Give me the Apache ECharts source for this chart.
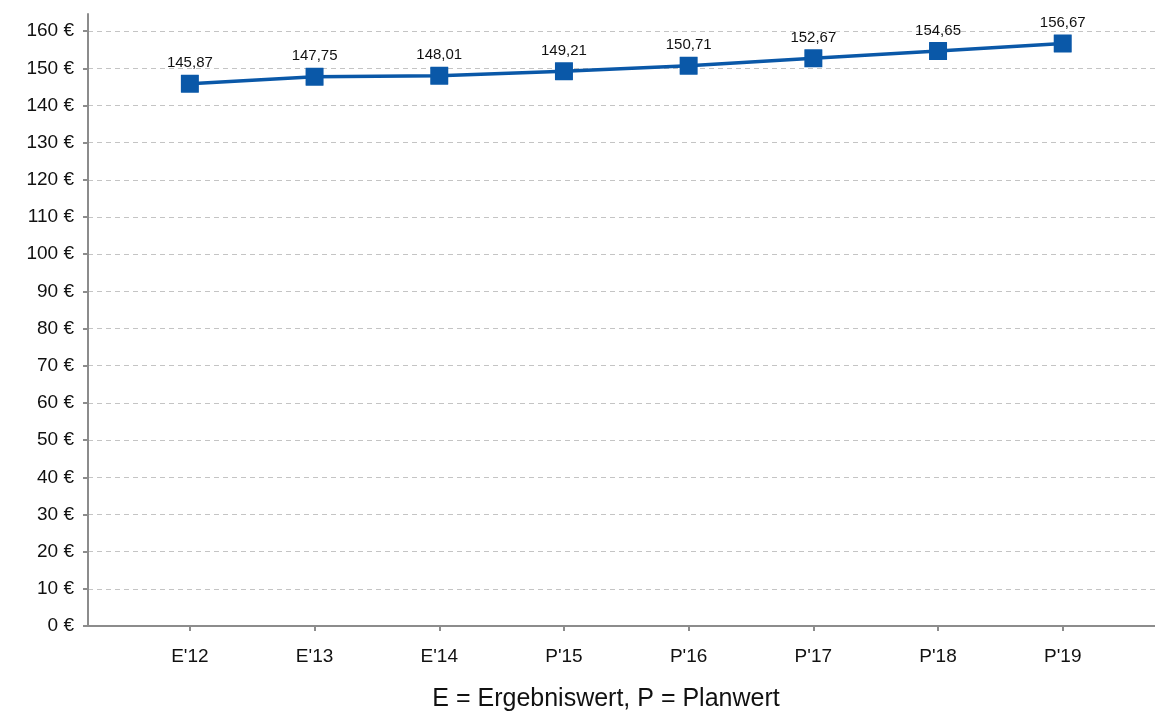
<!DOCTYPE html>
<html>
<head>
<meta charset="utf-8">
<script src="https://cdn.jsdelivr.net/npm/echarts@6/dist/echarts.min.js"></script>
<style>html,body{margin:0;padding:0;background:#fff;}#c{width:1155px;height:713px;}</style>
</head>
<body>
<div id="c"></div>
<script>
const categories = ["E'12", "E'13", "E'14", "P'15", "P'16", "P'17", "P'18", "P'19"];
const values = [145.87, 147.75, 148.01, 149.21, 150.71, 152.67, 154.65, 156.67];
const yTicks = [0, 10, 20, 30, 40, 50, 60, 70, 80, 90, 100, 110, 120, 130, 140, 150, 160];
const footnote = "E = Ergebniswert, P = Planwert";

const xIdx = categories.map((_, i) => i);
const chart = echarts.init(document.getElementById('c'), null, {renderer: 'canvas'});
const font = 'Liberation Sans, Arial, sans-serif';
chart.setOption({
  animation: false,
  backgroundColor: '#fff',
  title: {
    text: footnote, left: 601, top: 682, textAlign: 'center',
    textStyle: {fontFamily: font, fontSize: 25, fontWeight: 'normal', color: '#111'}
  },
  grid: {left: 88, right: 0, top: 14, bottom: 87, containLabel: false},
  xAxis: {
    type: 'value', min: -0.817, max: 7.74,
    axisLine: {show: true, onZero: false, lineStyle: {color: '#8c8c8c', width: 2}},
    axisTick: {show: true, customValues: xIdx, length: 5, lineStyle: {color: '#8c8c8c', width: 2}},
    axisLabel: {customValues: xIdx, formatter: v => categories[Math.round(v)] || '', fontFamily: font, fontSize: 19, color: '#111', margin: 21},
    splitLine: {show: false}
  },
  yAxis: {
    type: 'value', min: 0, max: 164.6,
    axisLine: {show: true, onZero: false, lineStyle: {color: '#8c8c8c', width: 2}},
    axisTick: {show: true, customValues: yTicks, length: 5, lineStyle: {color: '#8c8c8c', width: 2}},
    axisLabel: {customValues: yTicks, formatter: v => v + ' €', fontFamily: font, fontSize: 19, color: '#111', margin: 14},
    splitLine: {show: true, lineStyle: {color: '#c4c4c4', type: [5, 4], width: 1}}
  },
  series: [{
    type: 'line',
    data: values.map((v, i) => [i, v]),
    symbol: 'path://M2,0 H98 Q100,0 100,2 V98 Q100,100 98,100 H2 Q0,100 0,98 V2 Q0,0 2,0 Z', symbolSize: 18,
    itemStyle: {color: '#0a58a8'},
    lineStyle: {color: '#0a58a8', width: 3.5},
    label: {
      show: true, position: 'top', distance: 4,
      formatter: p => p.value[1].toFixed(2).replace('.', ','),
      fontFamily: font, fontSize: 15, color: '#111'
    },
    z: 5
  }]
});
</script>
</body>
</html>
